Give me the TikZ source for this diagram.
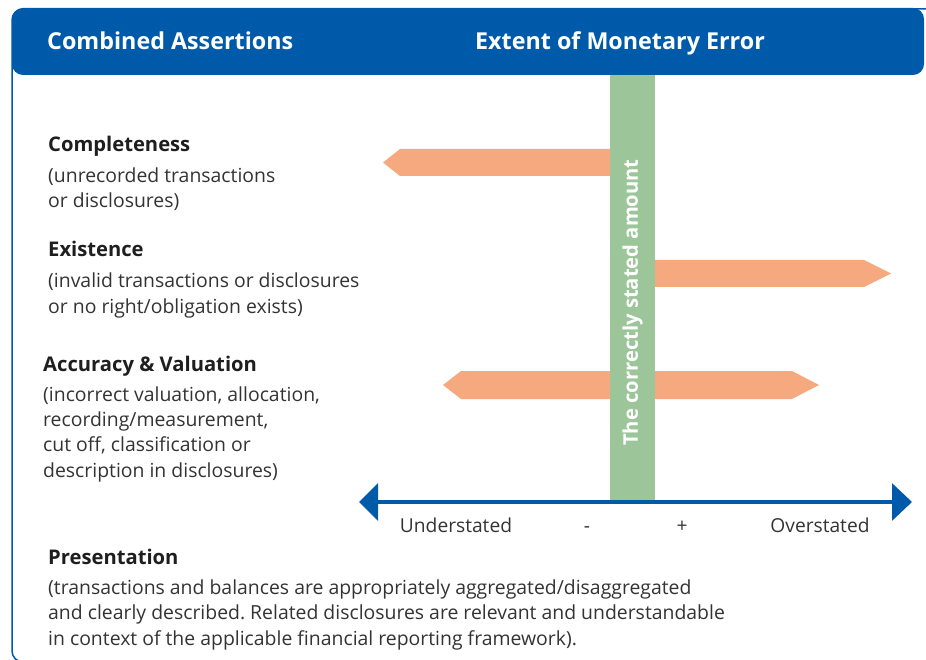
\documentclass[tikz,border=0pt]{standalone}
\usepackage{fontspec}
\setmainfont{Open Sans}
\usetikzlibrary{arrows.meta}
\frenchspacing
\definecolor{hdrblue}{HTML}{005AAA}
\definecolor{barorange}{HTML}{F6A97E}
\definecolor{bargreen}{HTML}{9CC599}
\definecolor{txtgray}{HTML}{333333}
\definecolor{headblack}{HTML}{1E1E1E}
\tikzset{
  body/.style={anchor=base west, inner sep=0pt, align=left, text=txtgray,
    font=\fontsize{19.4}{25.3}\selectfont},
  heading/.style={anchor=base west, inner sep=0pt, text=headblack,
    font=\fontsize{20.2}{25}\selectfont\bfseries},
  hdrtext/.style={anchor=base west, inner sep=0pt, text=white,
    font=\fontsize{23.3}{27}\selectfont\bfseries},
  axlabel/.style={anchor=base, inner sep=0pt, text=txtgray,
    font=\fontsize{19.2}{25}\selectfont},
  errbar/.style={fill=barorange, draw=none},
}
\begin{document}
\begin{tikzpicture}[x=1pt,y=-1pt]
\useasboundingbox (0,0) rectangle (926,660);
% frame
\begin{scope}
  \clip (0,0) rectangle (926,660);
  \draw[hdrblue, line width=1.5pt, rounded corners=11pt] (12,9) rectangle (980,662);
\end{scope}
% header
\fill[hdrblue, rounded corners=11pt] (12,8) rectangle (924,75);
\node[hdrtext] (hA) at (47,50) {Combined Assertions};
\node[hdrtext, anchor=base] (hB) at (620,50) {Extent of Monetary Error};
% orange bars
\fill[errbar] (612,149) -- (400,149) -- (383,162.5) -- (400,176) -- (612,176) -- cycle;
\fill[errbar] (653,260) -- (864,260) -- (891,273.5) -- (864,287) -- (653,287) -- cycle;
\fill[errbar] (461,371) -- (792,371) -- (819,385) -- (792,399) -- (461,399) -- (443,385) -- cycle;
% green bar
\node[fill=bargreen, inner sep=0pt, minimum width=45pt, minimum height=425pt] (bar) at (632.5,288) {};
\node[rotate=90, inner sep=0pt, text=white, font=\fontsize{20.2}{24}\selectfont\bfseries] (barlabel) at (632.5,302.5) {The correctly stated amount};
% axis
\coordinate (axL) at (359,502);
\coordinate (axR) at (912,502);
\draw[hdrblue, line width=3.5pt, {Triangle[length=19pt,width=37pt]}-{Triangle[length=20pt,width=37pt]}] (axL) -- (axR);
\node[axlabel] (under) at (456,532) {Understated};
\node[axlabel] (minus) at (587,532) {-};
\node[axlabel] (plus) at (682,532) {+};
\node[axlabel] (over) at (820,532) {Overstated};
% left texts (base anchor = baseline of last line)
\node[heading] (c1) at (48,152) {Completeness};
\node[body] (c2) at (48,208) {(unrecorded transactions\\or disclosures)};
\node[heading] (e1) at (48,257) {Existence};
\node[body] (e2) at (48,313) {(invalid transactions or disclosures\\or no right/obligation exists)};
\node[heading] (a1) at (43,371) {Accuracy \& Valuation};
\node[body] (a2) at (43,477) {(incorrect valuation, allocation,\\recording/measurement,\\cut off, classification or\\description in disclosures)};
\node[heading] (p1) at (48,564) {Presentation};
\node[body] (p2) at (48,645) {(transactions and balances are appropriately aggregated/disaggregated\\and clearly described. Related disclosures are relevant and understandable\\in context of the applicable financial reporting framework).};
\end{tikzpicture}
\end{document}
